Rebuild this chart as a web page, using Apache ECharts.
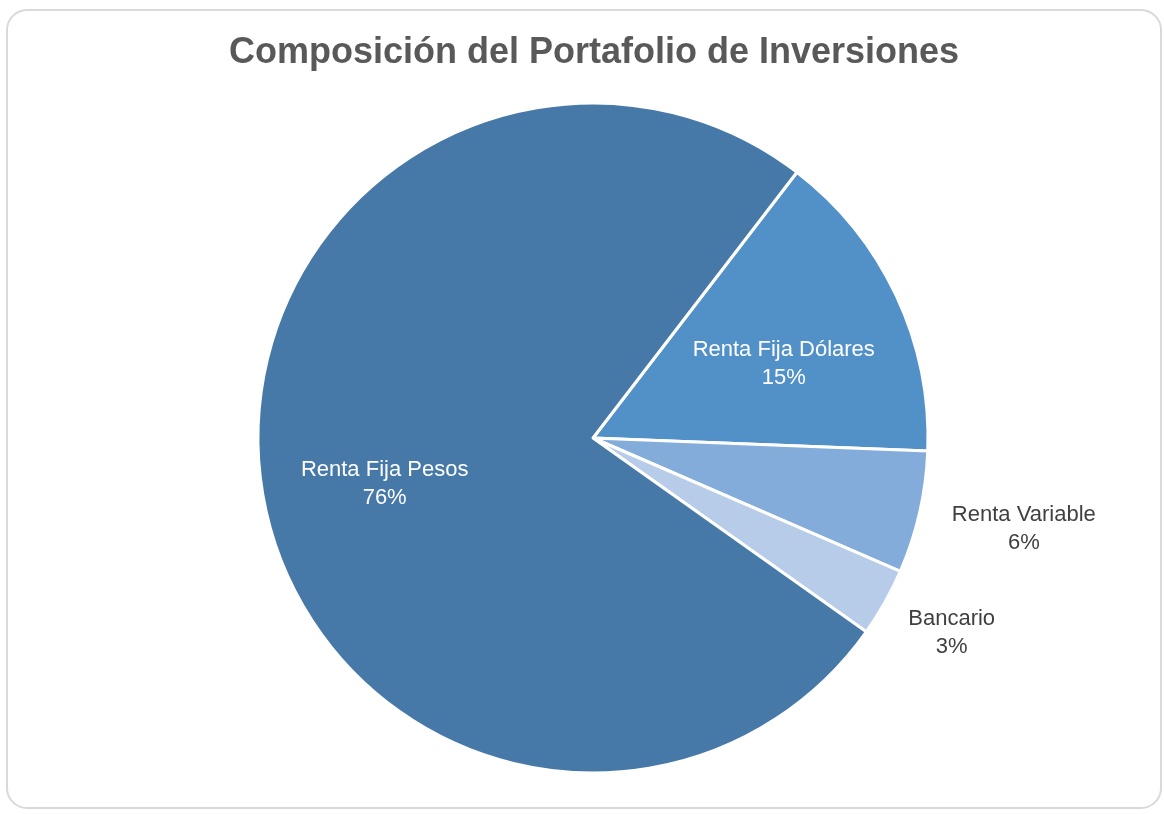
<!DOCTYPE html>
<html>
<head>
<meta charset="utf-8">
<script src="https://cdn.jsdelivr.net/npm/echarts@6/dist/echarts.min.js"></script>
<style>
html, body { margin: 0; padding: 0; background: #fff; }
#pieChart { width: 1164px; height: 814px; }
</style>
</head>
<body>
<div id="pieChart"></div>
<script>
// datos del portafolio (en %)
var categorias = ["Renta Fija Dólares", "Renta Variable", "Bancario", "Renta Fija Pesos"];
var valores = [15.2, 5.9, 3.3, 75.6];
var colores = ["#5290c8", "#83acdb", "#b7cce8", "#4678a8"];
var etiquetaDentro = [true, false, false, true];
// distancia de cada etiqueta al centro, relativa al radio
var distEtiqueta = [0.62, 1.31, 1.22, 0.62];

var centro = [593, 438];
var radio = 335;
var fuente = "'Liberation Sans', Arial, sans-serif";

function datos(mostrar) {
  return categorias.map(function (c, i) {
    return {
      name: c,
      value: valores[i],
      label: { show: mostrar(i) }
    };
  });
}

var series = [{
  // porciones
  type: "pie",
  center: centro,
  radius: [0, radio],
  startAngle: 52.5,
  clockwise: true,
  silent: true,
  label: { show: false },
  labelLine: { show: false },
  itemStyle: { borderColor: "#fff", borderWidth: 3 },
  data: datos(function () { return false; })
}];

// una serie transparente por etiqueta, para ubicarla a su distancia
categorias.forEach(function (c, k) {
  series.push({
    type: "pie",
    center: centro,
    radius: [0, radio * distEtiqueta[k] * 2],
    startAngle: 52.5,
    silent: true,
    percentPrecision: 0,
    itemStyle: { color: "transparent" },
    labelLine: { show: false },
    label: {
      position: "inside",
      formatter: "{b}\n{d}%",
      fontFamily: fuente,
      fontSize: 22,
      lineHeight: 28,
      offset: etiquetaDentro[k] ? [0, 15] : [0, -7],
      color: etiquetaDentro[k] ? "#fff" : "#404040"
    },
    data: datos(function (i) { return i === k; })
  });
});

var chart = echarts.init(document.getElementById("pieChart"));
chart.setOption({
  animation: false,
  title: {
    text: "Composición del Portafolio de Inversiones",
    left: 589,
    textAlign: "center",
    top: 30,
    textStyle: { fontFamily: fuente, fontSize: 36, fontWeight: "bold", color: "#595959" }
  },
  graphic: [{
    type: "rect",
    shape: { x: 7, y: 10, width: 1154, height: 798, r: 20 },
    style: { fill: "none", stroke: "#d9d9d9", lineWidth: 2 },
    silent: true
  }],
  color: colores,
  series: series
});
</script>
</body>
</html>
